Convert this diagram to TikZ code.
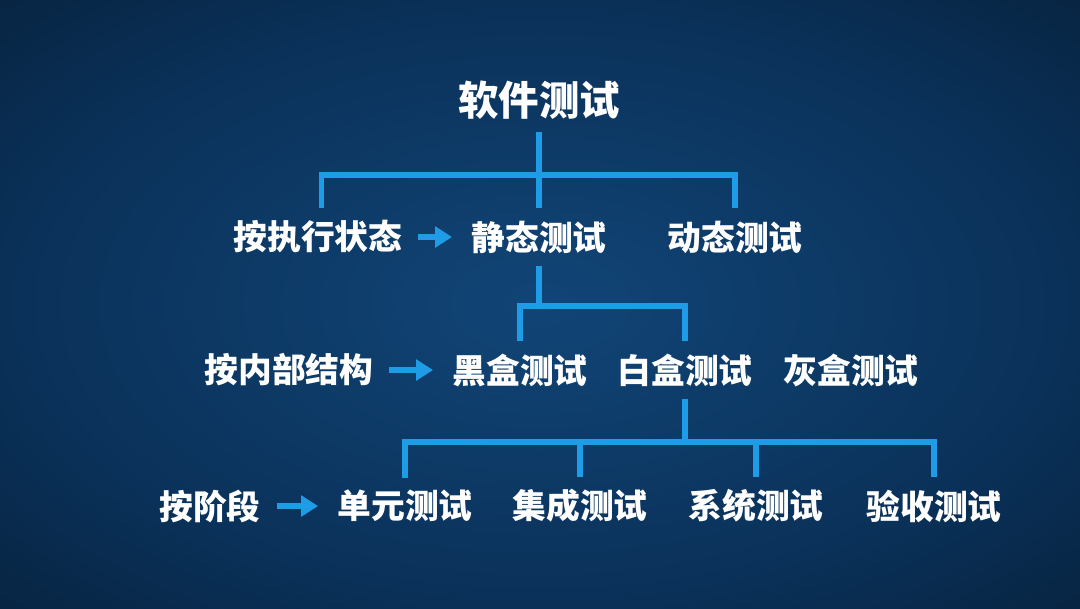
\documentclass[tikz,border=0pt]{standalone}
\usepackage{fontspec}
\usepackage{tikz}
\usetikzlibrary{arrows.meta}
\newfontfamily\cjk{Noto Sans CJK SC}
\definecolor{linkblue}{HTML}{1E9CE6}
\definecolor{bgin}{HTML}{114577}
\definecolor{bgmid}{HTML}{0A3159}
\definecolor{bgout}{HTML}{05172A}
\definecolor{bgcorner}{HTML}{020A12}
\pgfdeclareradialshading{bgglow}{\pgfpoint{0bp}{0bp}}{color(0bp)=(bgin); color(24bp)=(bgmid); color(48bp)=(bgout); color(71bp)=(bgcorner)}

\begin{document}
\begin{tikzpicture}[x=0.01cm, y=-0.01cm, >=Stealth,
  lbl/.style={text=white, font=\cjk\bfseries\fontsize{9.6}{11}\selectfont},
  top/.style={text=white, font=\cjk\bfseries\fontsize{11.5}{13}\selectfont},
  link/.style={draw=linkblue, line width=1.45pt},
  arr/.style={draw=linkblue, line width=1.7pt, -{Triangle[length=4.8pt,width=5.8pt]}, shorten <=1pt, shorten >=2pt}]
  % Background
  \fill[shading=bgglow] (0,0) rectangle (1080,608);
  \useasboundingbox (0,0) rectangle (1080,608);

  % Root
  \node[top] (soft) at (539,100) {软件测试};

  % By execution state
  \node[lbl] (zhixing) at (318,237) {按执行状态};
  \node[lbl] (jingtai) at (539,237) {静态测试};
  \node[lbl] (dongtai) at (735,237) {动态测试};

  % By inner structure
  \node[lbl] (neibu) at (289,370) {按内部结构};
  \node[lbl] (heihe) at (520,370) {黑盒测试};
  \node[lbl] (baihe) at (685,370) {白盒测试};
  \node[lbl] (huihe) at (851,370) {灰盒测试};

  % By stage
  \node[lbl] (jieduan) at (210,506) {按阶段};
  \node[lbl] (danyuan) at (405,506) {单元测试};
  \node[lbl] (jicheng) at (580,506) {集成测试};
  \node[lbl] (xitong) at (756,506) {系统测试};
  \node[lbl] (yanshou) at (934,506) {验收测试};

  % Branch points
  \coordinate (b1) at (539,175);
  \coordinate (b2) at (539,306);
  \coordinate (b3) at (685,442);

  % Tree lines
  \draw[link] (soft.south) -- (b1) -- (jingtai.north);
  \draw[link] ([xshift=1.1pt]zhixing.north) |- (b1) -| (dongtai.north);
  \draw[link] (jingtai.south) -- (b2);
  \draw[link] (heihe.north) |- (b2) -| (baihe.north);
  \draw[link] (baihe.south) -- (b3);
  \draw[link] (danyuan.north) |- (b3) -| (yanshou.north);
  \draw[link] (jicheng.north) -- (jicheng.north |- b3);
  \draw[link] (xitong.north) -- (xitong.north |- b3);

  % Arrows
  \draw[arr] (zhixing) -- (jingtai);
  \draw[arr] (neibu) -- (heihe);
  \draw[arr] (jieduan) -- (danyuan);
\end{tikzpicture}
\end{document}
